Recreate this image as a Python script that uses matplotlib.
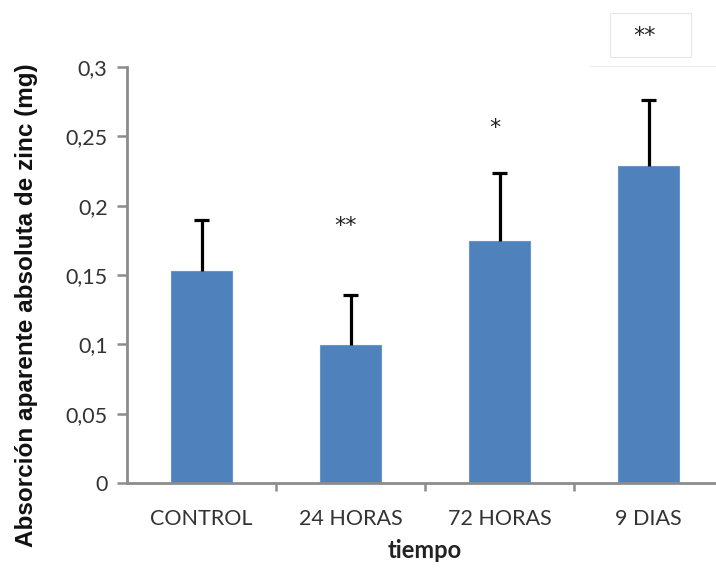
import matplotlib
matplotlib.use("Agg")
import matplotlib.pyplot as plt
from matplotlib.patches import Rectangle

categories = ["CONTROL", "24 HORAS", "72 HORAS", "9 DIAS"]
means = [0.153, 0.0995, 0.1745, 0.2285]
errors = [0.037, 0.036, 0.049, 0.0475]
marks = ["", "**", "*", ""]
mark_heights = [None, 0.185, 0.256, None]
yticks = [0, 0.05, 0.1, 0.15, 0.2, 0.25, 0.3]
ytick_labels = ["0", "0,05", "0,1", "0,15", "0,2", "0,25", "0,3"]

W, H = 716, 569
fig = plt.figure(figsize=(W / 100, H / 100), dpi=100)
ax = fig.add_axes([127 / W, 1 - 483 / H, (W - 127) / W, 416 / H])

x = list(range(len(categories)))
ax.bar(x, means, width=0.416, color="#4F81BD", edgecolor="#6A95C9", linewidth=0.8,
       zorder=2)

# upper error bars only
tops = [m + e for m, e in zip(means, errors)]
cap = 0.047
ax.vlines(x, means, tops, colors="black", linewidth=2.3, zorder=3)
ax.hlines(tops, [xi - cap for xi in x], [xi + cap for xi in x], colors="black",
          linewidth=2.3, zorder=3)

for xi, m, h in zip(x, marks, mark_heights):
    if m:
        ax.text(xi - 0.03, h, m, ha="center", va="center", fontsize=16,
                family="DejaVu Sans", color="#222222")

ax.set_xlim(-0.5, -0.5 + (W - 127) / 149)
ax.set_ylim(0, 0.3)

ax.set_yticks(yticks)
ax.set_yticklabels(ytick_labels)
ax.set_xticks([0.5, 1.5, 2.5])
ax.set_xticklabels([])
ax.tick_params(axis="y", direction="out", length=7, width=1.8, color="#8c8c8c",
               labelsize=15.5, pad=7, labelcolor="#333333")
ax.tick_params(axis="x", direction="out", length=6, width=1.8, color="#8c8c8c")
for t in ax.get_yticklabels():
    t.set_family("Lato")

for xi, c in zip(x, categories):
    ax.text(xi, -0.026, c, ha="center", va="center", fontsize=15.5, family="Lato",
            color="#333333", transform=ax.transData, clip_on=False)

for s in ["top", "right"]:
    ax.spines[s].set_visible(False)
for s in ["left", "bottom"]:
    ax.spines[s].set_color("#8c8c8c")
    ax.spines[s].set_linewidth(2)

fig.text(425 / W, 1 - 551 / H, "tiempo", ha="center", va="center", fontsize=17,
         fontweight="bold", family="Lato", color="#222222")
fig.text(27 / W, 1 - 305 / H, "Absorción aparente absoluta de zinc (mg)", rotation=90,
         ha="center", va="center", fontsize=17.5, fontweight="bold",
         family="Liberation Sans", color="#111111")

# box with significance marker
fig.patches.append(Rectangle((610 / W, 1 - 57 / H), 81 / W, 44 / H,
                             transform=fig.transFigure, facecolor="white",
                             edgecolor="#e6e6e6", linewidth=0.8))
fig.text(645 / W, 1 - 36 / H, "**", ha="center", va="center", fontsize=16,
         family="DejaVu Sans", color="#222222")
fig.lines.append(plt.Line2D([590 / W, 1], [1 - 66 / H, 1 - 66 / H],
                            transform=fig.transFigure, color="#eeeeee", linewidth=0.8))

fig.savefig("out.png", dpi=100)
